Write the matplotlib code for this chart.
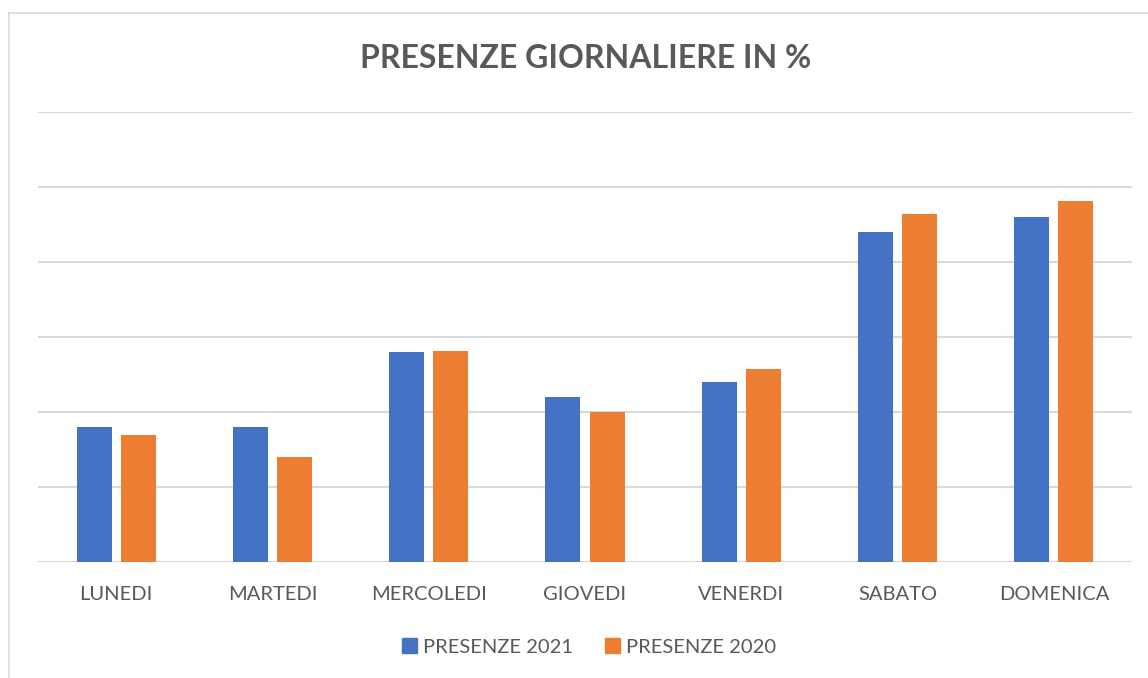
import matplotlib
matplotlib.use("Agg")
import matplotlib.pyplot as plt
import numpy as np
from matplotlib.lines import Line2D
from matplotlib.patches import Patch

categories = ["LUNEDI", "MARTEDI", "MERCOLEDI", "GIOVEDI", "VENERDI", "SABATO", "DOMENICA"]
presenze_2021 = [9, 9, 14, 11, 12, 22, 23]
presenze_2020 = [8.5, 7, 14.1, 10, 12.9, 23.2, 24.1]
series_names = ["PRESENZE 2021", "PRESENZE 2020"]
title = "PRESENZE GIORNALIERE IN %"

BLUE = "#4472C4"
ORANGE = "#ED7D31"
TXT = "#595959"
GRID = "#D9D9D9"

plt.rcParams["font.family"] = ["Lato", "DejaVu Sans"]

W, H = 1148, 678
fig = plt.figure(figsize=(W / 100, H / 100), dpi=100)

# outer chart border
fig.add_artist(Line2D([9 / W, 9 / W], [0, 1 - 13 / H], color=GRID, lw=1.2))
fig.add_artist(Line2D([9 / W, 1], [1 - 13 / H, 1 - 13 / H], color=GRID, lw=1.2))

ax = fig.add_axes([38 / W, (H - 562) / H, (1132 - 38) / W, 450 / H])
x = np.arange(len(categories))
bw = 0.224
off = 0.141
ax.bar(x - off, presenze_2021, bw, color=BLUE, label=series_names[0], zorder=3)
ax.bar(x + off, presenze_2020, bw, color=ORANGE, label=series_names[1], zorder=3)

ax.set_xlim(-0.5, len(categories) - 0.5)
ax.set_ylim(0, 30)
ax.set_yticks(np.arange(0, 31, 5))
ax.yaxis.grid(True, color=GRID, lw=1.5, zorder=0)
ax.tick_params(axis="y", left=False, labelleft=False)
ax.tick_params(axis="x", bottom=False, labelsize=14.5, labelcolor=TXT, pad=13.5)
ax.set_xticks(x)
ax.set_xticklabels(categories)
for s in ["top", "right", "left", "bottom"]:
    ax.spines[s].set_visible(False)

fig.text(586 / W, 1 - 59 / H, title, ha="center", va="center",
         fontsize=23, fontweight="bold", color=TXT)

handles = [Patch(color=BLUE, label=series_names[0]), Patch(color=ORANGE, label=series_names[1])]
fig.legend(handles=handles, loc="center", bbox_to_anchor=(589 / W, 1 - 647 / H), ncol=2,
           frameon=False, fontsize=14.5, labelcolor=TXT, handlelength=0.75, handleheight=0.75,
           handletextpad=0.3, columnspacing=1.6)

fig.savefig("out.png", dpi=100)
